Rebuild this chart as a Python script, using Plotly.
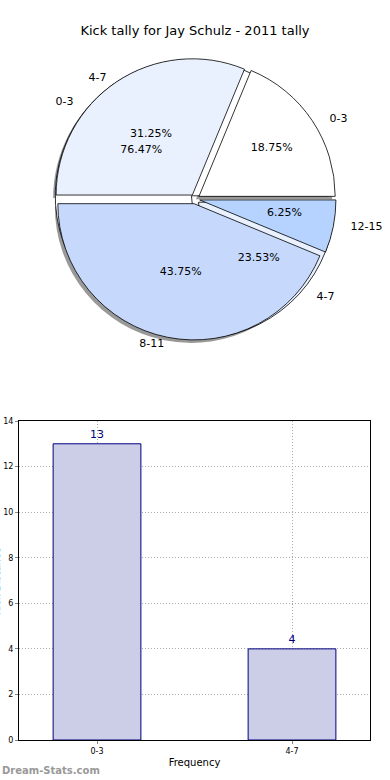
import plotly.graph_objects as go

# ---- data ----
title_text = "Kick tally for Jay Schulz - 2011 tally"
pie_labels = ["0-3", "4-7", "8-11", "12-15"]
pie_values = [3, 5, 7, 1]
pie_colors = ["#ffffff", "#eaf1fe", "#c6d9fd", "#b5d3fe"]

over_labels = ["0-3", "4-7"]
over_values = [13, 4]
over_colors = ["#ffffff", "#eaf1fe"]

bar_categories = ["0-3", "4-7"]
bar_values = [13, 4]

FONT = "DejaVu Sans"
W, H = 390, 780
NB = "\u00a0"

pull_b = [0.035] * len(pie_values)
pull_a = [0.035] * len(over_values)

# label padding (pushes outside labels a little further from the rim)
pad_b = [(4, 0), (0, 2), (0, 0), (4, 0)]
pad_a = [(0, 4), (4, 0)]
# which percent labels are drawn on the inner (small) ring instead of inside the slice
small_b = [False, False, False, True]


def dom(cx, cy, r, ox=0, oy=0):
    return ([(cx - r + ox) / W, (cx + r + ox) / W],
            [(H - cy - r - oy) / H, (H - cy + r - oy) / H])


cx, cy, R = 195, 199, 141
dom_x, dom_y = dom(cx, cy, R)
dom_xs, dom_ys = dom(cx, cy, R, ox=-3, oy=3)
sx, sy = dom(cx, cy, 70)


def rev(a):
    return list(a)[::-1]


def pie(labels, values, colors, pull, domx, domy, line_color="black", line_w=0.8,
        texttemplate=None, textposition="none"):
    return go.Pie(
        labels=rev(labels), values=rev(values), sort=False,
        direction="clockwise", rotation=90,
        pull=rev(pull),
        marker=dict(colors=rev(colors), line=dict(color=line_color, width=line_w)),
        domain=dict(x=domx, y=domy),
        texttemplate=rev(texttemplate) if texttemplate is not None else "",
        textinfo="none" if texttemplate is None else None,
        textposition=textposition,
        insidetextorientation="horizontal",
        textfont=dict(family=FONT, size=11, color="black"),
        hoverinfo="skip", showlegend=False,
    )


fig = go.Figure()
clear = ["rgba(0,0,0,0)"] * 4
NOLINE = dict(line_color="rgba(0,0,0,0)", line_w=0)
PCT = "%{percent:.2%}"

# shadow
fig.add_trace(pie(pie_labels, pie_values, ["rgba(70,70,70,0.55)"] * 4, pull_b,
                  dom_xs, dom_ys, **NOLINE))
# underlying second pie
fig.add_trace(pie(over_labels, over_values, over_colors, pull_a, dom_x, dom_y))
# main pie
fig.add_trace(pie(pie_labels, pie_values, pie_colors, pull_b, dom_x, dom_y))
# percent text layers
fig.add_trace(pie(over_labels, over_values, clear[:2], pull_a, dom_x, dom_y, **NOLINE,
                  texttemplate=[PCT] * 2, textposition="inside"))
fig.add_trace(pie(pie_labels, pie_values, clear, pull_b, dom_x, dom_y, **NOLINE,
                  texttemplate=["" if s else PCT for s in small_b], textposition="inside"))
fig.add_trace(pie(pie_labels, pie_values, clear, pull_b, sx, sy, **NOLINE,
                  texttemplate=[PCT if s else "" for s in small_b], textposition="outside"))
# category labels outside
fig.add_trace(pie(over_labels, over_values, clear[:2], pull_a, dom_x, dom_y, **NOLINE,
                  texttemplate=[NB * a + "%{label}" + NB * b for a, b in pad_a],
                  textposition="outside"))
fig.add_trace(pie(pie_labels, pie_values, clear, pull_b, dom_x, dom_y, **NOLINE,
                  texttemplate=[NB * a + "%{label}" + NB * b for a, b in pad_b],
                  textposition="outside"))

# bar chart
fig.add_trace(go.Bar(
    x=bar_categories, y=bar_values, width=0.45,
    marker=dict(color="#cccde6", line=dict(color="#00007f", width=1)),
    text=[str(v) for v in bar_values], textposition="outside",
    textfont=dict(family=FONT, size=11, color="#00007f"),
    cliponaxis=False, hoverinfo="skip", showlegend=False,
))

fig.update_layout(
    width=W, height=H,
    margin=dict(l=0, r=0, t=0, b=0, autoexpand=False),
    paper_bgcolor="white", plot_bgcolor="white",
    font=dict(family=FONT, color="black"),
    title=dict(text=title_text, x=0.5, xanchor="center", y=1 - 30 / H,
               yanchor="middle", font=dict(family=FONT, size=13, color="black")),
    xaxis=dict(domain=[19 / W, 370 / W], range=[-0.4, 1.4], type="category",
               automargin=False,
               showline=True, linecolor="black", linewidth=1, mirror=True,
               showgrid=True, gridcolor="#aaaaaa", griddash="1px,2px", gridwidth=1,
               ticks="outside", ticklen=3, tickcolor="#888",
               tickfont=dict(family=FONT, size=8, color="black"),
               title=dict(text="Frequency", font=dict(family=FONT, size=10), standoff=4),
               zeroline=False),
    yaxis=dict(domain=[40 / H, 359 / H], range=[0, 14], dtick=2,
               automargin=False,
               showline=True, linecolor="black", linewidth=1, mirror=True,
               showgrid=True, gridcolor="#aaaaaa", griddash="1px,2px", gridwidth=1,
               ticks="outside", ticklen=3, tickcolor="#888",
               tickfont=dict(family=FONT, size=8, color="black"),
               zeroline=False),
)

fig.add_annotation(text="Kick Distance", textangle=-90, xref="paper", yref="paper",
                   x=-4 / W, y=(H - 581) / H, xanchor="center", yanchor="middle",
                   showarrow=False, font=dict(family=FONT, size=10, color="black"))
fig.add_annotation(text="<b>Dream-Stats.com</b>", xref="paper", yref="paper",
                   x=0, y=(H - 770) / H, xanchor="left", yanchor="middle",
                   showarrow=False, font=dict(family=FONT, size=10, color="#999999"))

fig.write_html("out.html", config={"displayModeBar": False},
               post_script="document.body.style.margin='0';document.body.style.overflow='hidden';")
